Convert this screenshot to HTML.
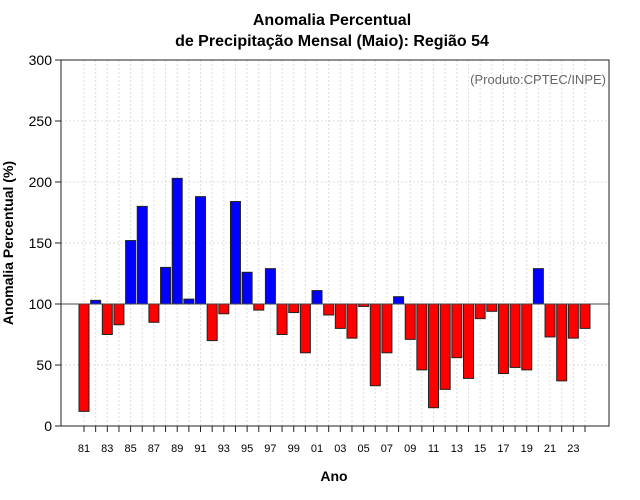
<!DOCTYPE html>
<html><head><meta charset="utf-8"><style>
html,body{margin:0;padding:0;background:#fff;}
svg{display:block;font-family:"Liberation Sans",sans-serif;}
</style></head><body>
<svg id="chart" width="640" height="500">
<text x="332" y="25" text-anchor="middle" font-size="16" font-weight="bold">Anomalia Percentual</text>
<text x="332" y="46" text-anchor="middle" font-size="16" font-weight="bold">de Precipitação Mensal (Maio): Região 54</text>
<g id="grid"></g>
<g id="bars"></g>
<g id="axes"></g>
<rect x="61" y="60" width="548" height="366" fill="none" stroke="#222" stroke-width="1"/>
<text x="606" y="84" text-anchor="end" font-size="13" fill="#666">(Produto:CPTEC/INPE)</text>
<text x="334" y="481" text-anchor="middle" font-size="14" font-weight="bold">Ano</text>
<text transform="translate(13,243) rotate(-90)" text-anchor="middle" font-size="14" font-weight="bold">Anomalia Percentual (%)</text>
</svg>
<script>
const years=[1981,1982,1983,1984,1985,1986,1987,1988,1989,1990,1991,1992,1993,1994,1995,1996,1997,1998,1999,2000,2001,2002,2003,2004,2005,2006,2007,2008,2009,2010,2011,2012,2013,2014,2015,2016,2017,2018,2019,2020,2021,2022,2023,2024];
const values=[12,103,75,83,152,180,85,130,203,104,188,70,92,184,126,95,129,75,93,60,111,91,80,72,98,33,60,106,71,46,15,30,56,39,88,94,43,48,46,129,73,37,72,80];
const yTicks=[0,50,100,150,200,250,300];
const ns="http://www.w3.org/2000/svg";
const X0=61,X1=609,Y0=426,Y1=60;
const x=v=>84+(v-1981)*(585-84)/43;
const y=v=>Y0-(v-0)*(Y0-Y1)/300;
const grid=document.getElementById('grid'),bars=document.getElementById('bars'),axes=document.getElementById('axes');
function mk(t,a,p){const e=document.createElementNS(ns,t);for(const k in a)e.setAttribute(k,a[k]);p.appendChild(e);return e;}
yTicks.forEach(t=>{
 if(t>0&&t<300){const g=mk('line',{x1:X0,x2:X1,y1:y(t),y2:y(t),stroke:'#ddd','stroke-dasharray':'2,2'},grid);
 
 }
 const tk=mk('line',{x1:X0-6,x2:X0,y1:y(t),y2:y(t),stroke:'#222'},axes);
 
 
 const l=mk('text',{x:X0-9,y:y(t)+5,'text-anchor':'end','font-size':'14'},axes);l.textContent=t;
 
 
});
years.forEach((yr,i)=>{
 const cx=x(yr);
 const g=mk('line',{x1:cx,x2:cx,y1:Y1,y2:Y0,stroke:'#ddd','stroke-dasharray':'2,2'},grid);
 
 
 const v=values[i];
 const top=Math.min(y(v),y(100)),h=Math.abs(y(v)-y(100));
 const b=mk('rect',{x:cx-5,y:top,width:10,height:Math.max(h,1),fill:v>=100?'#0000ff':'#ff0000',stroke:'#222','stroke-width':1},bars);
 
 
 const tk=mk('line',{x1:cx,x2:cx,y1:Y0,y2:Y0+6,stroke:'#222'},axes);
 
 
 if(yr%2===1){const l=mk('text',{x:cx,y:452,'text-anchor':'middle','font-size':'11'},axes);l.textContent=String(yr%100).padStart(2,'0');
 
 }
});
const base=mk('line',{x1:X0,x2:X1,y1:y(100),y2:y(100),stroke:'#444'},axes);


</script>
</body></html>
